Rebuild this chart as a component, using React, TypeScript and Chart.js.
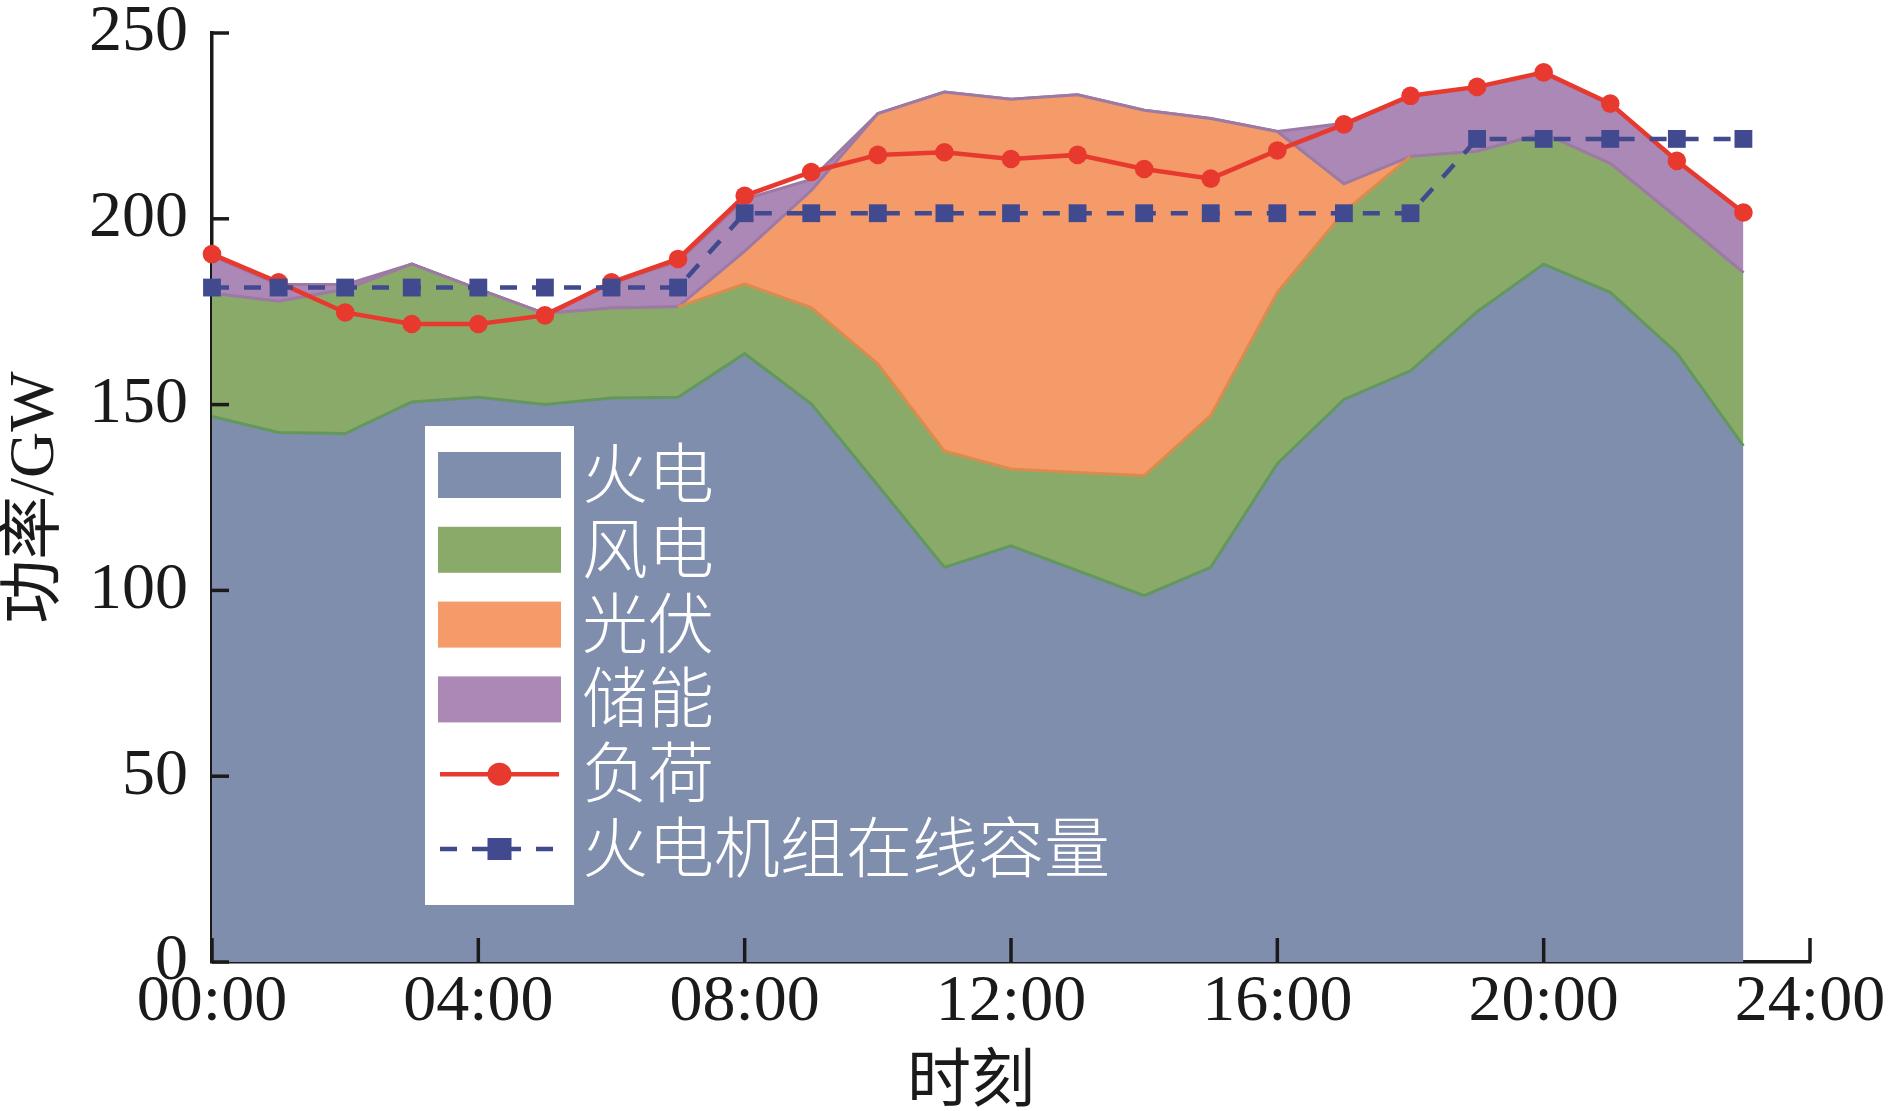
import { useEffect, useRef } from 'react';
import { Chart, registerables, type ChartConfiguration, type Plugin } from 'chart.js';

Chart.register(...registerables);

// hour of day for each sample (00:00 ... 23:00)
const hours = [0, 1, 2, 3, 4, 5, 6, 7, 8, 9, 10, 11, 12, 13, 14, 15, 16, 17, 18, 19, 20, 21, 22, 23];
const timeTicks = ['00:00', '04:00', '08:00', '12:00', '16:00', '20:00', '24:00'];

// stacked generation, GW
const thermal = [146.8, 142.5, 142.2, 150.7, 152.0, 150.0, 151.8, 152.0, 163.7, 150.2, 128.3, 106.2,
  112.0, 105.3, 98.6, 106.2, 134.1, 151.4, 159.1, 175.0, 187.8, 180.2, 163.9, 138.9];
const wind = [33.2, 35.3, 38.8, 37.1, 29.1, 24.5, 24.2, 24.3, 18.8, 25.9, 32.7, 31.3,
  20.7, 26.4, 32.3, 40.9, 46.1, 50.5, 57.7, 43.2, 35.2, 34.7, 36.5, 46.6];
const solar = [0, 0, 0, 0, 0, 0, 0, 0, 8.8, 31.5, 67.3, 96.6,
  99.5, 101.7, 98.3, 79.9, 43.3, 7.5, 0, 0, 0, 0, 0, 0];
const storage = [10.0, 4.5, 1.3, 0, 0, 0, 6.7, 12.2, 14.0, 3.0, 0, 0,
  0, 0, 0, 0, 0, 16.3, 16.3, 17.3, 16.4, 16.1, 15.2, 16.2];

// lines, GW
const load = [190.5, 182.9, 174.8, 171.7, 171.7, 174.0, 182.9, 189.2, 206.2, 212.6, 217.2, 217.9,
  216.1, 217.2, 213.4, 210.8, 218.4, 225.4, 233.1, 235.5, 239.4, 231.0, 215.6, 201.7];
const capacity = [181.5, 181.5, 181.5, 181.5, 181.5, 181.5, 181.5, 181.5, 201.5, 201.5, 201.5, 201.5,
  201.5, 201.5, 201.5, 201.5, 201.5, 201.5, 201.5, 221.5, 221.5, 221.5, 221.5, 221.5];

const legendOrder = ['火电', '风电', '光伏', '储能', '负荷', '火电机组在线容量'];

const C = {
  thermal: '#808eae',
  wind: '#8aaa6a',
  windEdge: '#62985c',
  solar: '#f59b69',
  solarEdge: '#dc8b4c',
  storage: '#ab88b6',
  storageEdge: '#9d7aa3',
  load: '#e8392f',
  cap: '#414a8f',
  axis: '#1a1a1a',
};

const SERIF = '"Liberation Serif", "Noto Sans CJK SC", serif';
const CJK = '"Noto Sans CJK SC", "Liberation Serif", sans-serif';

const toPoints = (values: number[]) => hours.map((h, i) => ({ x: h, y: values[i] }));

// ticks point inwards in the reference, so draw them ourselves from the scales
const innerTicks: Plugin<'line'> = {
  id: 'innerTicks',
  afterDraw(chart) {
    const { ctx } = chart;
    const x = chart.scales.x;
    const y = chart.scales.y;
    ctx.save();
    ctx.strokeStyle = C.axis;
    ctx.lineWidth = 3.5;
    y.ticks.forEach((t) => {
      const py = y.getPixelForValue(t.value);
      ctx.beginPath();
      ctx.moveTo(y.right, py);
      ctx.lineTo(y.right + 17, py);
      ctx.stroke();
    });
    x.ticks.forEach((t) => {
      const px = x.getPixelForValue(t.value);
      ctx.beginPath();
      ctx.moveTo(px, x.top);
      ctx.lineTo(px, x.top - 24);
      ctx.stroke();
    });
    ctx.restore();
  },
};

// legend sits inside the plot: white box behind the keys, white text on the area
const boxLegend: Plugin<'line'> = {
  id: 'boxLegend',
  afterDraw(chart) {
    const { ctx } = chart;
    const left = 425;
    const top = 426;
    const rowH = 74.8;
    ctx.save();
    ctx.fillStyle = '#ffffff';
    ctx.fillRect(left, top, 149, 479);
    legendOrder.forEach((label, i) => {
      const ds: any = chart.data.datasets.find((d) => d.label === label);
      if (!ds) return;
      const cy = top + 49 + i * rowH;
      const x0 = left + 13;
      const x1 = left + 136;
      if (ds.fill !== false) {
        ctx.fillStyle = ds.backgroundColor;
        ctx.fillRect(x0, cy - 23, x1 - x0, 46);
      } else {
        const mid = (x0 + x1) / 2;
        ctx.strokeStyle = ds.borderColor;
        ctx.lineWidth = ds.borderWidth;
        ctx.setLineDash(ds.borderDash || []);
        ctx.beginPath();
        ctx.moveTo(x0 + 2, cy);
        ctx.lineTo(x1 - 2, cy);
        ctx.stroke();
        ctx.setLineDash([]);
        ctx.fillStyle = ds.pointBackgroundColor;
        if (ds.pointStyle === 'rect') {
          ctx.fillRect(mid - 12, cy - 11, 24, 22);
        } else {
          ctx.beginPath();
          ctx.ellipse(mid, cy, 12, 11.5, 0, 0, Math.PI * 2);
          ctx.fill();
        }
      }
      ctx.fillStyle = '#ffffff';
      ctx.font = `300 66px ${CJK}`;
      ctx.textBaseline = 'middle';
      ctx.textAlign = 'left';
      ctx.fillText(label, left + 157, cy - 2);
    });
    ctx.restore();
  },
};

// wind/solar boundary: orange while PV is producing, purple (storage edge) otherwise
function windEdge(ctx: any) {
  const chart = ctx.chart;
  const area = chart.chartArea;
  const xs = chart.scales.x;
  if (!area || !xs) return C.storageEdge;
  const first = solar.findIndex((v) => v > 0) - 1;
  let last = -1;
  solar.forEach((v, i) => { if (v > 0) last = i + 1; });
  const w = area.right - area.left;
  const a = (xs.getPixelForValue(hours[first]) - area.left) / w;
  const b = (xs.getPixelForValue(hours[last]) - area.left) / w;
  const g = chart.ctx.createLinearGradient(area.left, 0, area.right, 0);
  g.addColorStop(0, C.storageEdge);
  g.addColorStop(a, C.storageEdge);
  g.addColorStop(a, C.solarEdge);
  g.addColorStop(b, C.solarEdge);
  g.addColorStop(b, C.storageEdge);
  g.addColorStop(1, C.storageEdge);
  return g;
}

export default function App() {
  const canvasRef = useRef<HTMLCanvasElement>(null);
  const chartRef = useRef<Chart | null>(null);

  useEffect(() => {
    document.body.style.margin = '0';
    if (!canvasRef.current) return;

    const areaBase = { stack: 'gen', pointRadius: 0, borderWidth: 3, tension: 0 };

    const config: ChartConfiguration<'line'> = {
      type: 'line',
      data: {
        datasets: [
          {
            label: '火电机组在线容量',
            data: toPoints(capacity),
            stack: 'cap',
            borderColor: C.cap,
            borderWidth: 4.5,
            borderDash: [17, 15],
            pointStyle: 'rect',
            pointRadius: 12.6,
            pointBackgroundColor: C.cap,
            pointBorderWidth: 0,
            fill: false,
            clip: false as any,
          },
          {
            label: '负荷',
            data: toPoints(load),
            stack: 'load',
            borderColor: C.load,
            borderWidth: 4.5,
            pointStyle: 'circle',
            pointRadius: 9.3,
            pointBackgroundColor: C.load,
            pointBorderWidth: 0,
            fill: false,
            clip: false as any,
          },
          {
            ...areaBase,
            label: '火电',
            data: toPoints(thermal),
            backgroundColor: C.thermal,
            borderColor: C.windEdge,
            fill: 'origin',
          },
          {
            ...areaBase,
            label: '风电',
            data: toPoints(wind),
            backgroundColor: C.wind,
            borderColor: windEdge,
            fill: '-1',
          },
          {
            ...areaBase,
            label: '光伏',
            data: toPoints(solar),
            backgroundColor: C.solar,
            borderColor: C.storageEdge,
            fill: '-1',
          },
          {
            ...areaBase,
            label: '储能',
            data: toPoints(storage),
            backgroundColor: C.storage,
            borderColor: C.storageEdge,
            fill: '-1',
          },
        ],
      },
      options: {
        animation: false,
        responsive: true,
        maintainAspectRatio: false,
        events: [],
        layout: { padding: { top: 33, right: 78, bottom: 0, left: 0 } },
        plugins: {
          legend: { display: false },
          tooltip: { enabled: false },
        },
        scales: {
          x: {
            type: 'linear',
            min: 0,
            max: 24,
            z: 1,
            afterFit: (s) => { s.height = 149; },
            grid: { display: false, drawTicks: false },
            border: { display: true, color: C.axis, width: 3.5 },
            ticks: {
              stepSize: 4,
              padding: 1,
              color: C.axis,
              font: { family: SERIF, size: 66, lineHeight: 1.2 },
              maxRotation: 0,
              autoSkip: false,
              callback: (v) => timeTicks[Math.round(Number(v) / 4)] ?? '',
            },
            title: {
              display: true,
              text: '时刻\u3000 ',
              color: C.axis,
              padding: 0,
              font: { family: SERIF, size: 64, lineHeight: 0.84 },
            },
          },
          y: {
            stacked: true,
            min: 0,
            max: 250,
            z: 1,
            afterFit: (s: any) => { s.width = 212; s.paddingTop = 0; s.paddingBottom = 0; },
            grid: { display: false, drawTicks: false },
            border: { display: true, color: C.axis, width: 3.5 },
            ticks: {
              stepSize: 50,
              padding: 24,
              color: C.axis,
              font: { family: SERIF, size: 66, lineHeight: 0.9 },
            },
            title: {
              display: true,
              text: '功率/GW',
              color: C.axis,
              padding: 0,
              font: { family: SERIF, size: 64, lineHeight: 1.125 },
            },
          },
        },
      },
      plugins: [innerTicks, boxLegend],
    };

    chartRef.current = new Chart(canvasRef.current, config);
    return () => { chartRef.current?.destroy(); chartRef.current = null; };
  }, []);

  return (
    <div style={{ position: 'relative', width: 1888, height: 1111 }}>
      <canvas ref={canvasRef} />
    </div>
  );
}
